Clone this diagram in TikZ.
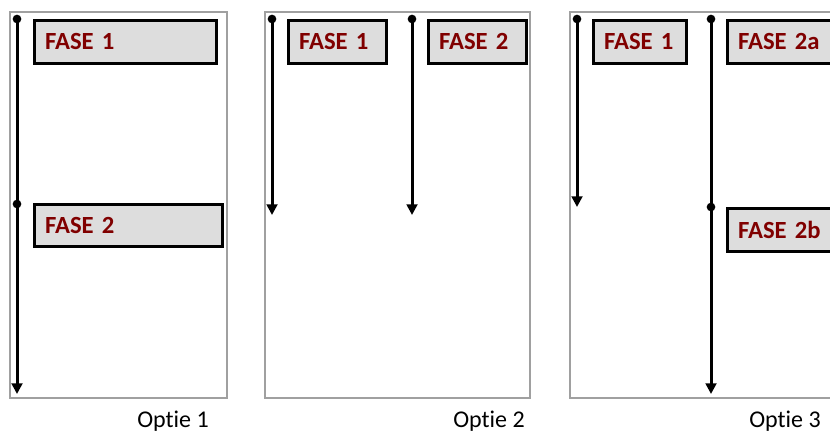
\documentclass[tikz,border=0pt]{standalone}
\usepackage{fontspec}
\setmainfont{Carlito}[Ligatures={NoCommon,NoRequired,NoContextual}]
\usetikzlibrary{arrows.meta}
\definecolor{faserood}{RGB}{128,0,0}
\definecolor{fasegrijs}{RGB}{221,221,221}
\definecolor{kadergrijs}{RGB}{160,160,160}

\begin{document}
\begin{tikzpicture}[
  x=0.75pt, y=-0.75pt,
  fase/.style={draw, line width=2.25pt, fill=fasegrijs, anchor=north west,
    minimum height=32pt, inner xsep=8pt, align=left, text=faserood,
    font=\fontsize{18.5}{21}\selectfont\bfseries},
  kader/.style={draw=kadergrijs, line width=0.8pt},
  lijn/.style={line width=2.25pt, -{Triangle[length=8pt,width=8pt]}},
  punt/.style={circle, fill, inner sep=0pt, minimum size=6.5pt},
  optie/.style={anchor=base, font=\fontsize{18}{21}\selectfont}
]
\path[use as bounding box, clip] (0,0) rectangle (830,431);

% Optie 1
\draw[kader] (10,12) rectangle (227,398);
\node[punt] (a1) at (17,19) {};
\node[punt] (a2) at (17,204) {};
\coordinate (a3) at (17,394);
\path (a1.center) edge[lijn] (a3);
\node[fase, text width=120.5pt] (f1) at (33,19) {FASE 1};
\node[fase, text width=125pt] (f2) at (33,202.5) {FASE 2};
\node[optie] (o1) at (173,427) {Optie 1};

% Optie 2
\draw[kader] (265,12) rectangle (530,398);
\node[punt] (b1) at (272,19) {};
\coordinate (b2) at (272,215);
\node[punt] (c1) at (412,19) {};
\coordinate (c2) at (412,215);
\path (b1.center) edge[lijn] (b2)
      (c1.center) edge[lijn] (c2);
\node[fase, text width=57.5pt] (g1) at (287,19) {FASE 1};
\node[fase, text width=57.5pt] (g2) at (427,19) {FASE 2};
\node[optie] (o2) at (489,427) {Optie 2};

% Optie 3
\draw[kader] (570,12) rectangle (840,398);
\node[punt] (d1) at (577,19) {};
\coordinate (d2) at (577,207);
\node[punt] (e1) at (711,19) {};
\node[punt] (e2) at (711,207) {};
\coordinate (e3) at (711,394);
\path (d1.center) edge[lijn] (d2)
      (e1.center) edge[lijn] (e3);
\node[fase, text width=53.75pt] (h1) at (592,19) {FASE 1};
\node[fase, text width=80pt] (h2) at (726,19) {FASE 2a};
\node[fase, text width=80pt] (h3) at (726,207) {FASE 2b};
\node[optie] (o3) at (785,427) {Optie 3};
\end{tikzpicture}
\end{document}
